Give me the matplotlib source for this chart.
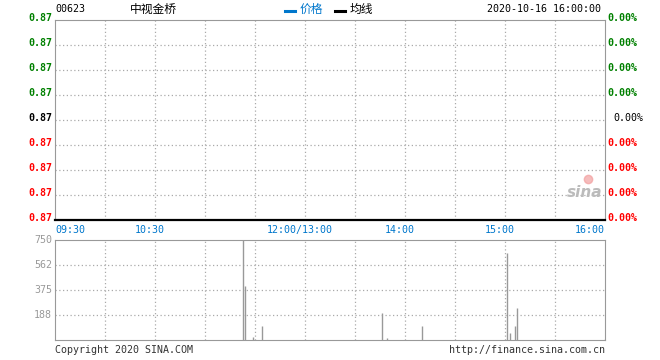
import matplotlib
matplotlib.use("Agg")
import matplotlib.pyplot as plt

# chart data
code = "00623"
name = "中视金桥"
stamp = "2020-10-16 16:00:00"
price_labels = ["0.87"] * 9
pct_labels = ["0.00%"] * 9
time_labels = ["09:30", "10:30", "12:00/13:00", "14:00", "15:00", "16:00"]
time_ticks = [0, 60, 150, 210, 270, 330]          # trading minutes from open
vol_ticks = [188, 375, 562, 750]
vol_minute = [113, 114, 119, 124, 196, 199, 220, 271, 273, 276, 277, 330]
vol_value = [760, 405, 25, 105, 202, 17, 105, 655, 55, 105, 240, 6]

mono = ["DejaVu Sans Mono"]
cjk = ["Noto Sans CJK SC", "DejaVu Sans"]
grid_kw = dict(color="#aaaaaa", linestyle=(0, (1, 2)), linewidth=0.9)
W, H = 660, 360

fig = plt.figure(figsize=(6.6, 3.6), dpi=100)


def box(l, t, r, b):
    return [l / W, 1 - b / H, (r - l) / W, (b - t) / H]


# price panel
ax = fig.add_axes(box(55, 20, 605, 220))
ax.set_xlim(0, 330)
ax.set_ylim(0, 8)
for x in range(30, 330, 30):
    ax.axvline(x, **grid_kw)
for y in range(1, 8):
    ax.axhline(y, **grid_kw)
for s in ["left", "top", "right"]:
    ax.spines[s].set_color("#999999")
ax.spines["bottom"].set_color("black")
ax.spines["bottom"].set_linewidth(1.6)
ax.set_xticks([])
ax.set_yticks([])
for i, lab in enumerate(price_labels):
    y = 8 - i
    col = "#008000" if i < 4 else ("#ff0000" if i > 4 else "#000000")
    ax.text(-3 / 550 * 330, y + 0.08, lab, ha="right", va="center", color=col,
            family=mono, fontsize=7.2, fontweight="bold")
    px = 331.5 if i != 4 else 335
    ax.text(px, y + 0.08, pct_labels[i], ha="left", va="center", color=col,
            family=mono, fontsize=7.2, fontweight="bold" if i != 4 else "normal")
for t, lab in zip(time_ticks, time_labels):
    ha = "left" if t == 0 else ("right" if t == 330 else "center")
    ax.text(t - (3 if ha == "center" else 0), -0.2, lab, ha=ha, va="top",
            color="#0077cc", family=mono, fontsize=7.2)
ax.text(318, 1.1, "sina", ha="center", va="center", color="#bbbbbb",
        fontsize=11, fontweight="bold", style="italic")
ax.plot([320], [1.65], "o", color="#f2a0a0", markersize=6, alpha=0.7)

# header
fig.text(55 / W, 1 - 9 / H, code, ha="left", va="center", family=mono, fontsize=7.2)
fig.text(130 / W, 1 - 9 / H, name, ha="left", va="center", family=cjk, fontsize=8.5)
fig.add_artist(plt.Line2D([285 / W, 295 / W], [1 - 11 / H] * 2, color="#0077cc", lw=2.2))
fig.text(300 / W, 1 - 9 / H, "价格", ha="left", va="center", color="#0077cc",
         family=cjk, fontsize=8.5)
fig.add_artist(plt.Line2D([335 / W, 345 / W], [1 - 11 / H] * 2, color="black", lw=2.2))
fig.text(350 / W, 1 - 9 / H, "均线", ha="left", va="center", family=cjk, fontsize=8.5)
fig.text(601 / W, 1 - 9 / H, stamp, ha="right", va="center", family=mono, fontsize=7.2)

# volume panel
vx = fig.add_axes(box(55, 240, 605, 340))
vx.set_xlim(0, 330)
vx.set_ylim(0, 750)
for x in range(30, 330, 30):
    vx.axvline(x, **grid_kw)
for y in vol_ticks[:-1]:
    vx.axhline(y, **grid_kw)
vx.vlines(vol_minute, 0, vol_value, color="#999999", linewidth=1.0)
for s in vx.spines.values():
    s.set_color("#999999")
vx.set_xticks([])
vx.set_yticks([])
for v in vol_ticks:
    vx.text(-3 / 550 * 330, v, str(v), ha="right", va="center", color="#999999",
            family=mono, fontsize=7.2)

fig.text(55 / W, 1 - 350 / H, "Copyright 2020 SINA.COM", ha="left", va="center",
         family=mono, fontsize=7.2, color="#333333")
fig.text(605 / W, 1 - 350 / H, "http://finance.sina.com.cn", ha="right", va="center",
         family=mono, fontsize=7.2, color="#333333")

fig.savefig("out.png", dpi=100)
